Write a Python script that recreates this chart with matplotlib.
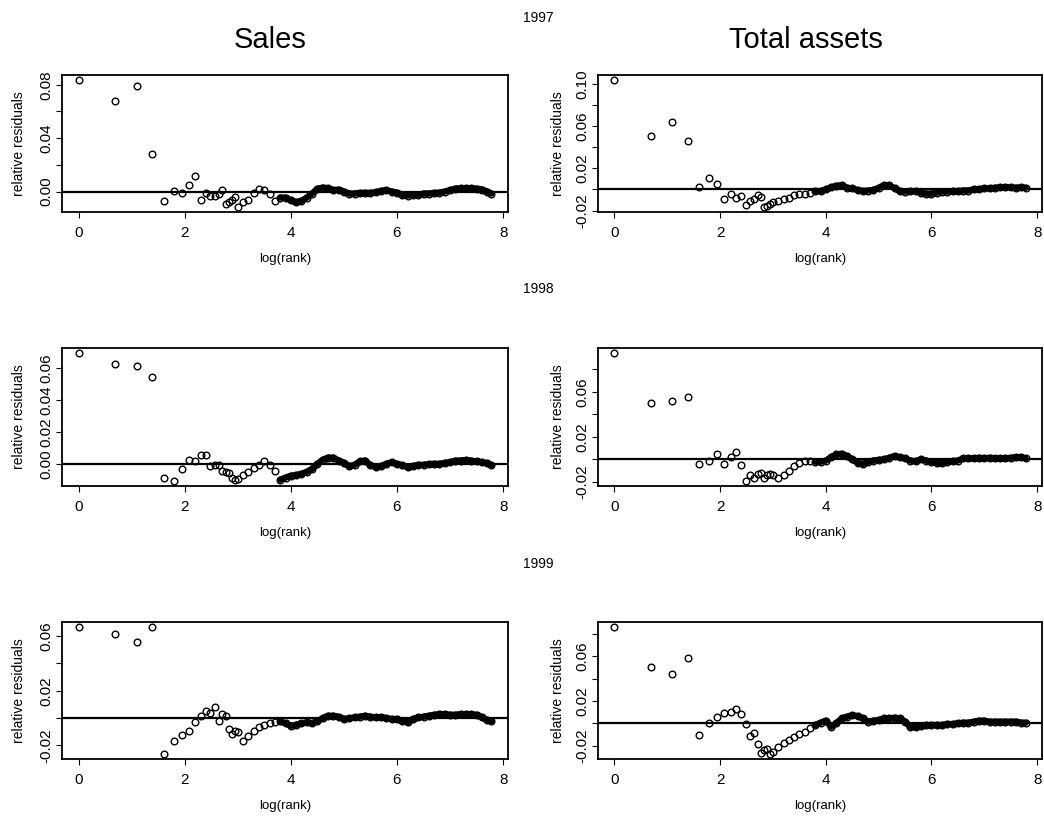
import numpy as np
import matplotlib
import matplotlib.pyplot as plt

matplotlib.use('Agg')
plt.rcParams['font.family'] = ['Liberation Sans', 'DejaVu Sans']

# ranks shown as separate points, and log(rank) positions read along the dense tail
RANKS = list(range(1, 21))
TAIL_LOG_RANK = [3.1, 3.2, 3.3, 3.4, 3.5, 3.6, 3.7, 3.8, 3.9,
                 4.0, 4.1, 4.2, 4.3, 4.4, 4.5, 4.6, 4.7, 4.8, 4.9,
                 5.0, 5.1, 5.2, 5.3, 5.4, 5.5, 5.6, 5.7, 5.8, 5.9,
                 6.0, 6.1, 6.2, 6.3, 6.4, 6.5, 6.6, 6.7, 6.8, 6.9,
                 7.0, 7.1, 7.2, 7.3, 7.4, 7.5, 7.6, 7.7, 7.78]

YEARS = ['1997', '1998', '1999']
COLUMNS = ['Sales', 'Total assets']

# relative residuals, ranks 1..20
sales_1997_top = [0.0835, 0.068, 0.079, 0.0285, -0.007, 0.0005, -0.0012, 0.005, 0.0115, -0.006,
                  -0.0008, -0.0035, -0.003, -0.002, 0.0015, -0.0095, -0.008, -0.006, -0.004, -0.0115]
assets_1997_top = [0.104, 0.051, 0.064, 0.0457, 0.002, 0.0105, 0.005, -0.009, -0.0045, -0.0077,
                   -0.006, -0.0144, -0.011, -0.0086, -0.0054, -0.007, -0.0166, -0.0157, -0.0134, -0.012]
sales_1998_top = [0.0696, 0.0628, 0.0615, 0.0546, -0.009, -0.0107, -0.0032, 0.0026, 0.0021, 0.0054,
                  0.0058, -0.0015, -0.001, -0.001, -0.0043, -0.0054, -0.0058, -0.0086, -0.010, -0.0092]
assets_1998_top = [0.0945, 0.0504, 0.052, 0.0555, -0.004, -0.001, 0.005, -0.004, 0.0024, 0.0066,
                   -0.005, -0.019, -0.014, -0.016, -0.013, -0.0117, -0.016, -0.014, -0.013, -0.014]
sales_1999_top = [0.0666, 0.0612, 0.0556, 0.0666, -0.0262, -0.017, -0.0121, -0.0097, -0.0032, 0.0017,
                  0.0053, 0.0041, 0.0083, -0.0019, 0.0029, 0.0017, -0.008, -0.0117, -0.0092, -0.0104]
assets_1999_top = [0.0861, 0.0505, 0.0445, 0.0588, -0.0104, 0.0006, 0.0059, 0.0089, 0.0104, 0.0125,
                   0.0083, -0.0006, -0.0113, -0.0089, -0.0184, -0.0267, -0.0238, -0.0232, -0.0273, -0.0252]

# relative residuals along TAIL_LOG_RANK
sales_1997_tail = [-0.008, -0.006, -0.001, 0.002, 0.001, -0.002, -0.007, -0.0045, -0.0045,
                   -0.0065, -0.008, -0.007, -0.0045, -0.0015, 0.002, 0.003, 0.0025, 0.001, 0.0015,
                   0.0, -0.0015, -0.0015, -0.001, -0.001, -0.001, -0.0005, 0.0005, 0.001, 0.0,
                   -0.0008, -0.0025, -0.003, -0.0025, -0.0025, -0.0015, -0.0015, -0.001, -0.0008, 0.0,
                   0.001, 0.0022, 0.0025, 0.0025, 0.0025, 0.0022, 0.0015, 0.0, -0.0015]
assets_1997_tail = [-0.0105, -0.009, -0.008, -0.0055, -0.004, -0.004, -0.003, -0.0016, -0.0016,
                    0.0, 0.002, 0.0035, 0.004, 0.0016, 0.001, -0.0006, -0.0016, -0.001, -0.0006,
                    0.0016, 0.004, 0.004, 0.001, -0.0016, -0.002, -0.0016, -0.0016, -0.003, -0.004,
                    -0.004, -0.003, -0.002, -0.002, -0.0016, -0.0016, -0.001, -0.001, 0.0, 0.0003,
                    0.001, 0.001, 0.0016, 0.002, 0.002, 0.002, 0.0016, 0.002, 0.0016]
sales_1998_tail = [-0.007, -0.005, -0.0028, -0.0006, 0.002, -0.001, -0.0043, -0.010, -0.0086,
                   -0.0075, -0.007, -0.0064, -0.005, -0.0032, 0.0, 0.0026, 0.0039, 0.0039, 0.0021,
                   0.0006, -0.0015, -0.0006, 0.0015, 0.0021, -0.001, -0.002, -0.0015, 0.0, 0.001,
                   0.0, -0.001, -0.002, -0.0015, -0.0006, -0.0006, -0.0002, 0.0, 0.0, 0.0006,
                   0.001, 0.002, 0.0021, 0.0024, 0.002, 0.0015, 0.001, 0.0004, -0.001]
assets_1998_tail = [-0.016, -0.0135, -0.010, -0.006, -0.003, -0.001, -0.0015, -0.002, -0.002,
                    -0.001, 0.002, 0.0045, 0.005, 0.003, 0.0, -0.003, -0.004, -0.002, -0.001,
                    -0.0003, 0.0, 0.0015, 0.003, 0.002, 0.001, -0.001, -0.0015, 0.0, -0.001,
                    -0.002, -0.003, -0.003, -0.002, -0.0015, -0.001, 0.001, 0.001, 0.001, 0.0015,
                    0.001, 0.0015, 0.001, 0.001, 0.001, 0.0015, 0.002, 0.002, 0.001]
sales_1999_tail = [-0.0165, -0.0129, -0.0092, -0.0068, -0.0049, -0.0039, -0.0032, -0.0024, -0.0039,
                   -0.0056, -0.0049, -0.0039, -0.0032, -0.0039, -0.0024, 0.0, 0.0017, 0.0017, 0.001,
                   -0.0007, -0.0002, 0.0005, 0.001, 0.0017, 0.001, 0.0005, 0.0005, 0.0, -0.0007,
                   -0.0007, -0.0024, -0.0032, -0.0007, 0.0005, 0.001, 0.0017, 0.0024, 0.0029, 0.0029,
                   0.0024, 0.0024, 0.0029, 0.0029, 0.0029, 0.0024, 0.0005, -0.0015, -0.0024]
assets_1999_tail = [-0.0214, -0.0178, -0.0148, -0.0125, -0.0095, -0.0074, -0.0045, -0.0015, 0.0006,
                    0.0024, -0.003, 0.0, 0.0045, 0.0059, 0.0074, 0.0065, 0.0045, 0.0015, 0.0024,
                    0.003, 0.0045, 0.0045, 0.005, 0.0045, 0.0015, -0.003, -0.0036, -0.0024, -0.0015,
                    -0.0015, -0.0015, -0.0015, -0.0006, -0.0006, 0.0, 0.0006, 0.0006, 0.0015, 0.0024,
                    0.0024, 0.0015, 0.0015, 0.0015, 0.0015, 0.0015, 0.0015, 0.0006, 0.0006]

# y tick positions and which of them R printed a label for
yticks_1997 = ([0.0, 0.02, 0.04, 0.06, 0.08], ['0.00', '', '0.04', '', '0.08'])
yticks_1997_ta = ([-0.02, 0.0, 0.02, 0.04, 0.06, 0.08, 0.10], ['-0.02', '', '0.02', '', '0.06', '', '0.10'])
yticks_1998 = ([0.0, 0.02, 0.04, 0.06], ['0.00', '0.02', '0.04', '0.06'])
yticks_1998_ta = ([-0.02, 0.0, 0.02, 0.04, 0.06, 0.08], ['-0.02', '', '0.02', '', '0.06', ''])
yticks_1999 = ([-0.02, 0.0, 0.02, 0.04, 0.06], ['-0.02', '', '0.02', '', '0.06'])
yticks_1999_ta = ([-0.02, 0.0, 0.02, 0.04, 0.06, 0.08], ['-0.02', '', '0.02', '', '0.06', ''])

panels = [
    [(sales_1997_top, sales_1997_tail, yticks_1997), (assets_1997_top, assets_1997_tail, yticks_1997_ta)],
    [(sales_1998_top, sales_1998_tail, yticks_1998), (assets_1998_top, assets_1998_tail, yticks_1998_ta)],
    [(sales_1999_top, sales_1999_tail, yticks_1999), (assets_1999_top, assets_1999_tail, yticks_1999_ta)],
]


def draw_panel(ax, top, tail, yt):
    x_top = np.log(RANKS)
    x_tail = np.array(TAIL_LOG_RANK)
    tail = np.array(tail)
    solid = x_tail >= 3.75
    # dense part of the scatter is a solid band in the original
    ax.plot(x_tail[solid], tail[solid], '-', color='black', lw=4.6,
            solid_capstyle='round', solid_joinstyle='round', zorder=2)
    ax.plot(np.concatenate([x_top, x_tail]), np.concatenate([top, tail]), 'o',
            mfc='none', mec='black', ms=4.8, mew=1.0, zorder=3)
    ax.axhline(0, color='black', lw=1.6, zorder=1)
    ax.margins(x=0.04, y=0.04)
    ax.set_xticks([0, 2, 4, 6, 8])
    ax.set_xticklabels(['0', '2', '4', '6', '8'])
    ax.set_yticks(yt[0])
    ax.set_yticklabels(yt[1], rotation=90, va='center')
    ax.tick_params(axis='x', direction='out', length=4.5, width=0.8, pad=5.5, labelsize=11)
    ax.tick_params(axis='y', direction='out', length=4.5, width=0.8, pad=2.0, labelsize=11)
    for s in ax.spines.values():
        s.set_linewidth(1.3)
    ax.set_xlabel('log(rank)', fontsize=9.5)
    ax.set_ylabel('relative residuals', fontsize=10)
    ax.xaxis.set_label_coords(0.5, -0.3)


fig = plt.figure(figsize=(10.44, 8.18), dpi=100)
W, H = 1044, 818
col_left = [62, 598]
col_width = [446, 444]
row_top = [75, 348, 622]
row_height = [137, 138, 137]

for r in range(3):
    for c in range(2):
        top, tail, yt = panels[r][c]
        ax = fig.add_axes([col_left[c] / W, 1 - (row_top[r] + row_height[r]) / H,
                           col_width[c] / W, row_height[r] / H])
        draw_panel(ax, top, tail, yt)
        ax.yaxis.set_label_coords(-0.081 if c == 0 else -0.074, 0.5)

fig.text(270 / W, 1 - 48 / H, COLUMNS[0], fontsize=21, ha='center', va='baseline')
fig.text(806 / W, 1 - 48 / H, COLUMNS[1], fontsize=21, ha='center', va='baseline')
for y, year in zip([18, 289, 564], YEARS):
    fig.text(538 / W, 1 - y / H, year, fontsize=10, ha='center', va='center')

fig.savefig('out.png', dpi=100)
